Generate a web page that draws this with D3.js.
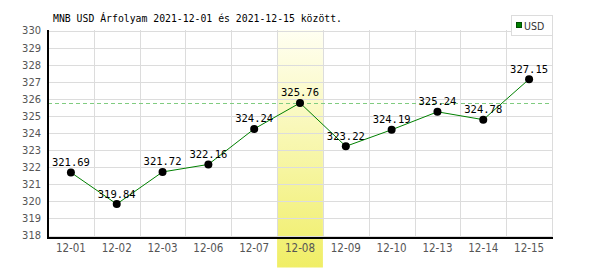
<!DOCTYPE html>
<html>
<head>
<meta charset="utf-8">
<script src="https://cdn.jsdelivr.net/npm/d3@7"></script>
<style>
  body { margin: 0; background: #fff; }
  svg { display: block; }
</style>
</head>
<body>
<svg id="chart" width="600" height="270"></svg>
<script>
// data
const dates = ["12-01", "12-02", "12-03", "12-06", "12-07", "12-08", "12-09", "12-10", "12-13", "12-14", "12-15"];
const rates = [321.69, 319.84, 321.72, 322.16, 324.24, 325.76, 323.22, 324.19, 325.24, 324.78, 327.15];
const yTicks = [318, 319, 320, 321, 322, 323, 324, 325, 326, 327, 328, 329, 330];
const highlightDay = "12-08";
const titleText = "MNB USD Árfolyam 2021-12-01 és 2021-12-15 között.";
const seriesName = "USD";

const svg = d3.select("#chart");
const plotLeft = 48, plotRight = 552, plotTop = 30.5, plotBottom = 238;

const x = d3.scaleBand().domain(dates).range([plotLeft, plotRight]);
const y = d3.scaleLinear().domain([318, 330]).range([235.5, plotTop]);

const mono = "'DejaVu Sans Mono', monospace";
const tickFont = "'Liberation Sans Narrow', 'DejaVu Sans Condensed', sans-serif";

// yellow gradient for the highlighted day
const defs = svg.append("defs");
const grad = defs.append("linearGradient")
    .attr("id", "hl")
    .attr("x1", 0).attr("y1", 0).attr("x2", 0).attr("y2", 1);
grad.append("stop").attr("offset", "0%").attr("stop-color", "#fffff2");
grad.append("stop").attr("offset", "100%").attr("stop-color", "#f0ee66");

svg.append("rect")
    .attr("x", x(highlightDay))
    .attr("y", plotTop - 0.5)
    .attr("width", x.bandwidth())
    .attr("height", 268 - plotTop)
    .attr("fill", "url(#hl)");

// grid
svg.append("g").selectAll("line")
    .data(yTicks)
    .enter()
    .append("line")
    .attr("x1", plotLeft).attr("x2", plotRight)
    .attr("y1", d => Math.round(y(d)) + 0.5)
    .attr("y2", d => Math.round(y(d)) + 0.5)
    .attr("stroke", "#dcdcdc");

svg.append("g").selectAll("line")
    .data(dates.slice(1).concat(["end"]))
    .enter()
    .append("line")
    .attr("x1", d => Math.round(d === "end" ? plotRight : x(d)) + 0.5)
    .attr("x2", d => Math.round(d === "end" ? plotRight : x(d)) + 0.5)
    .attr("y1", plotTop - 0.5).attr("y2", plotBottom)
    .attr("stroke", "#dcdcdc");

// dashed reference at the highlighted day's value
const hlValue = rates[dates.indexOf(highlightDay)];
svg.append("line")
    .attr("x1", plotLeft).attr("x2", plotRight)
    .attr("y1", Math.round(y(hlValue)) + 0.5)
    .attr("y2", Math.round(y(hlValue)) + 0.5)
    .attr("stroke", "#80cc80")
    .attr("stroke-dasharray", "4,3");

// axes lines
svg.append("line")
    .attr("x1", plotLeft).attr("x2", plotLeft)
    .attr("y1", plotTop - 0.5).attr("y2", plotBottom + 1)
    .attr("stroke", "#000").attr("stroke-width", 2);
svg.append("line")
    .attr("x1", plotLeft).attr("x2", plotRight + 1)
    .attr("y1", plotBottom).attr("y2", plotBottom)
    .attr("stroke", "#000").attr("stroke-width", 2);

// y tick labels
svg.append("g").selectAll("text")
    .data(yTicks)
    .enter()
    .append("text")
    .attr("x", 41)
    .attr("y", d => y(d))
    .attr("dy", "0.36em")
    .attr("text-anchor", "end")
    .attr("font-family", tickFont)
    .attr("font-size", 11)
    .attr("fill", "#555")
    .text(d => d);

// x tick labels
svg.append("g").selectAll("text")
    .data(dates)
    .enter()
    .append("text")
    .attr("x", d => x(d) + x.bandwidth() / 2)
    .attr("y", 252)
    .attr("text-anchor", "middle")
    .attr("font-family", tickFont)
    .attr("font-size", 11.5)
    .attr("fill", "#555")
    .text(d => d);

// series
const line = d3.line()
    .x((d, i) => x(dates[i]) + x.bandwidth() / 2)
    .y(d => y(d));

svg.append("path")
    .datum(rates)
    .attr("d", line)
    .attr("fill", "none")
    .attr("stroke", "#008000")
    .attr("stroke-width", 1);

svg.append("g").selectAll("circle")
    .data(rates)
    .enter()
    .append("circle")
    .attr("cx", (d, i) => x(dates[i]) + x.bandwidth() / 2)
    .attr("cy", d => y(d))
    .attr("r", 4)
    .attr("fill", "#000");

svg.append("g").selectAll("text")
    .data(rates)
    .enter()
    .append("text")
    .attr("x", (d, i) => x(dates[i]) + x.bandwidth() / 2)
    .attr("y", d => y(d) - 6.5)
    .attr("text-anchor", "middle")
    .attr("font-family", mono)
    .attr("font-size", 10.5)
    .attr("fill", "#000")
    .text(d => d.toFixed(2));

// title
svg.append("text")
    .attr("x", 53)
    .attr("y", 22)
    .attr("font-family", mono)
    .attr("font-size", 9.8)
    .attr("fill", "#000")
    .text(titleText);

// legend
svg.append("rect")
    .attr("x", 511.5).attr("y", 15.5)
    .attr("width", 41).attr("height", 20)
    .attr("fill", "#fff")
    .attr("stroke", "#dcdcdc");
svg.append("rect")
    .attr("x", 516.5).attr("y", 22.5)
    .attr("width", 5).attr("height", 5)
    .attr("fill", "#008000")
    .attr("stroke", "#004d00");
svg.append("text")
    .attr("x", 524)
    .attr("y", 29.5)
    .attr("font-family", tickFont)
    .attr("font-size", 10.5)
    .attr("fill", "#333")
    .text(seriesName);
</script>
</body>
</html>
